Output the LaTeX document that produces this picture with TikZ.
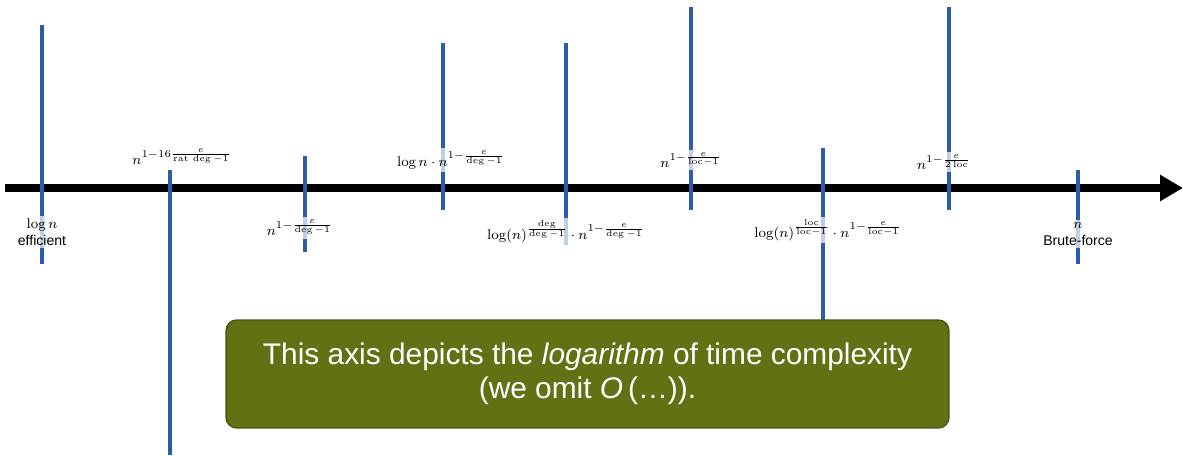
\documentclass[tikz,border=0pt]{standalone}
\usepackage{amsmath,amssymb}
\usepackage{fontspec}
\setsansfont{Liberation Sans}
\usepackage{tikz}
\usetikzlibrary{arrows.meta,positioning}
\definecolor{tickblue}{RGB}{44,93,172}
\definecolor{boxolive}{RGB}{97,113,20}
\definecolor{boxedge}{RGB}{74,88,14}

\begin{document}
\begin{tikzpicture}[x=0.02cm,y=-0.02cm,
  tick/.style={tickblue,line width=2.3pt},
  lbl/.style={fill=white,fill opacity=0.7,text opacity=1,inner sep=1.5pt,font=\footnotesize}]
  \useasboundingbox (0,0) rectangle (1183,456);
  % the axis
  \coordinate (axL) at (5,188);
  \coordinate (axR) at (1183,188);
  \draw[line width=4.5pt,-{Triangle[length=0.46cm,width=0.5cm]}] (axL) -- (axR);
  % ticks
  \foreach \x/\ya/\yb [count=\i] in {42/25/264,170/170/455,305/156/252,443/43/210,566/43/245,
      691/7/210,823/148/322,949/7/210,1078/170/264}{
    \coordinate (t\i a) at (\x,\ya);
    \coordinate (t\i b) at (\x,\yb);
    \draw[tick] (t\i a) -- (t\i b);
  }
  % labels
  \node[lbl,align=center] (l1) at (42,232) {$\log n$\\\sffamily efficient};
  \node[lbl] (l2) at (182,157) {$n^{1-16\frac{e}{\mathrm{rat}\,\deg-1}}$};
  \node[lbl] (l3) at (300,228) {$n^{1-\frac{e}{\deg-1}}$};
  \node[lbl] (l4) at (451,160) {$\log n\cdot n^{1-\frac{e}{\deg-1}}$};
  \node[lbl] (l5) at (566,232) {$\log(n)^{\frac{\deg}{\deg-1}}\cdot n^{1-\frac{e}{\deg-1}}$};
  \node[lbl] (l6) at (691,160) {$n^{1-\frac{e}{\mathrm{loc}-1}}$};
  \node[lbl] (l7) at (828,230) {$\log(n)^{\frac{\mathrm{loc}}{\mathrm{loc}-1}}\cdot n^{1-\frac{e}{\mathrm{loc}-1}}$};
  \node[lbl] (l8) at (944,162) {$n^{1-\frac{e}{2\,\mathrm{loc}}}$};
  \node[lbl,align=center] (l9) at (1078,234) {$n$\\\sffamily Brute-force};
  % note
  \node[draw=boxedge,fill=boxolive,rounded corners=6pt,line width=0.8pt,
    minimum width=14.46cm,minimum height=2.16cm,text=white,align=center,
    font=\sffamily\fontsize{17}{19.5}\selectfont] (note) at (587.5,374)
    {This axis depicts the \textit{logarithm} of time complexity\\(we omit \textit{O}\,(\ldots)).};
\end{tikzpicture}
\end{document}
